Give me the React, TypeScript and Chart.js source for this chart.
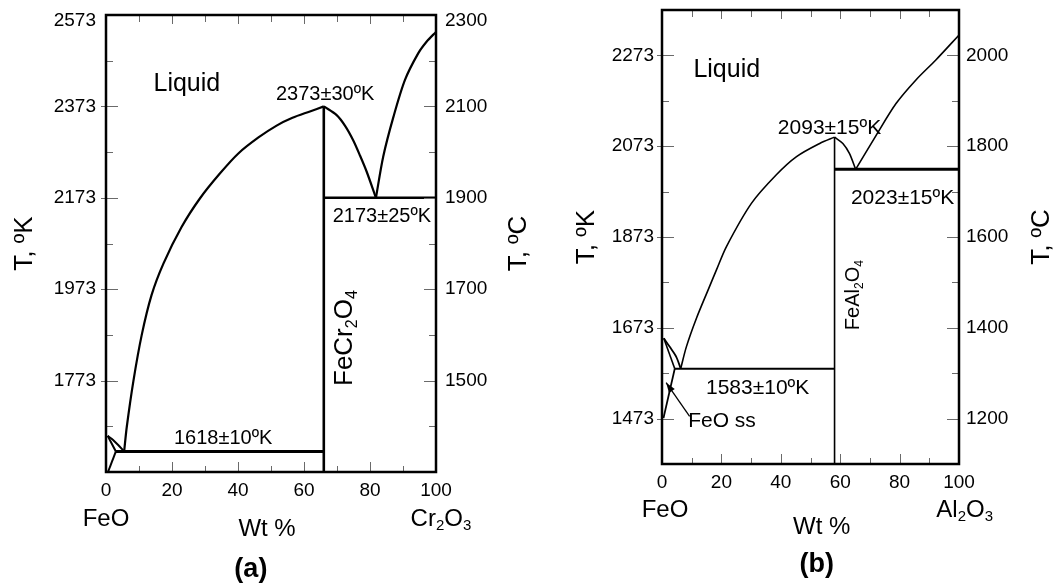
import React, { useEffect, useRef } from "react";
import { Chart, registerables } from "chart.js";
Chart.register(...registerables);

type Pt = [number, number];
type Seg = { t: string; sub?: boolean };

const FONT = "'Liberation Sans', Arial, Helvetica, sans-serif";

// ---------- shared composition axis (wt %) ----------
const wtTicks = [0, 10, 20, 30, 40, 50, 60, 70, 80, 90, 100];
const wtLabels = [0, 20, 40, 60, 80, 100];

// ---------- panel (a): FeO – Cr2O3 ----------
const kTicksA = [1573, 1673, 1773, 1873, 1973, 2073, 2173, 2273, 2373, 2473, 2573];
const kLabelsA = [1773, 1973, 2173, 2373, 2573];
const cTicksA = [1300, 1400, 1500, 1600, 1700, 1800, 1900, 2000, 2100, 2200, 2300];
const cLabelsA = [1500, 1700, 1900, 2100, 2300];

const liquidusFeOSideA: Pt[] = [
  [5.5, 1618], [6.3, 1672], [8.3, 1772], [10.8, 1872], [13.8, 1960], [17.4, 2029],
  [22.9, 2109], [28.5, 2172], [34.5, 2226], [40.1, 2270], [46.2, 2305], [51.7, 2331],
  [56.5, 2348], [61.8, 2362], [66, 2373],
];
const liquidusSpinelA: Pt[] = [
  [66, 2373], [69.9, 2354], [72.5, 2330], [74.9, 2299], [77, 2265], [79, 2230], [81.8, 2173],
];
const liquidusCr2O3SideA: Pt[] = [
  [81.8, 2173], [84, 2263], [87.1, 2350], [90.6, 2431], [94.6, 2489], [97.2, 2515], [100, 2536],
];
const eutecticLowA: Pt[] = [[3.0, 1618], [66, 1618]];
const eutecticHighA: Pt[] = [[66, 2173], [100, 2173]];
const spinelLineA: Pt[] = [[66, 1573], [66, 2373]];
const lensUpperA: Pt[] = [[0.5, 1652], [1.7, 1646], [3.7, 1632], [5.5, 1618]];
const lensLowerA: Pt[] = [[0.5, 1652], [1.6, 1637], [3.0, 1618]];
const solvusA: Pt[] = [[3.0, 1618], [0.6, 1573]];

// ---------- panel (b): FeO – Al2O3 ----------
const kTicksB = [1373, 1473, 1573, 1673, 1773, 1873, 1973, 2073, 2173, 2273, 2373];
const kLabelsB = [1473, 1673, 1873, 2073, 2273];
const cTicksB = [1100, 1200, 1300, 1400, 1500, 1600, 1700, 1800, 1900, 2000, 2100];
const cLabelsB = [1200, 1400, 1600, 1800, 2000];

const liquidusFeOSideB: Pt[] = [
  [6.3, 1583], [8.2, 1631], [11.6, 1694], [15.5, 1756], [18.3, 1800], [21.7, 1852],
  [30.1, 1947], [38.5, 2010], [45.3, 2050], [53.1, 2079], [58.1, 2093],
];
const liquidusSpinelB: Pt[] = [[58.1, 2093], [60.9, 2079], [63.1, 2057], [65.2, 2022]];
const liquidusAl2O3SideB: Pt[] = [
  [65.2, 2022], [72.1, 2097], [78.8, 2167], [85.5, 2219], [92.2, 2263], [100, 2318],
];
const eutecticLowB: Pt[] = [[4.3, 1583], [58.1, 1583]];
const eutecticHighB: Pt[] = [[58.1, 2022], [100, 2022]];
const spinelLineB: Pt[] = [[58.1, 1373], [58.1, 2093]];
const lensUpperB: Pt[] = [[0.6, 1650], [2.6, 1631], [4.8, 1609], [6.3, 1583]];
const lensLowerB: Pt[] = [[0.6, 1650], [4.3, 1583]];
const solvusB: Pt[] = [[4.3, 1583], [0.5, 1474]];
const feoArrowB: Pt[] = [[9.3, 1478], [1.4, 1552]];

// ---------- rendering config ----------
interface Line { pts: Pt[]; w: number; smooth?: boolean }
interface Note {
  segs: Seg[]; size: number; x?: number; y?: number;
  fromLeft?: number; fromRight?: number; below?: number;
  bold?: boolean; rotate?: boolean; align?: "left" | "center";
}
interface PanelCfg {
  left: number; width: number;
  area: { left: number; right: number; top: number; bottom: number };
  kMin: number; kMax: number; cMin: number; cMax: number;
  kTicks: number[]; kLabels: number[]; cTicks: number[]; cLabels: number[];
  padL: number; padR: number; topLabelDrop: number;
  lines: Line[]; notes: Note[]; arrows: Pt[][];
}

const H = 583;

const panelA: PanelCfg = {
  left: 0, width: 530,
  area: { left: 106, right: 436, top: 15, bottom: 472 },
  kMin: 1573, kMax: 2573, cMin: 1300, cMax: 2300,
  kTicks: kTicksA, kLabels: kLabelsA, cTicks: cTicksA, cLabels: cLabelsA,
  padL: 10, padR: 9, topLabelDrop: 6,
  lines: [
    { pts: liquidusFeOSideA, w: 2.2, smooth: true },
    { pts: liquidusSpinelA, w: 2.2, smooth: true },
    { pts: liquidusCr2O3SideA, w: 2.2, smooth: true },
    { pts: eutecticLowA, w: 3 },
    { pts: eutecticHighA, w: 2.5 },
    { pts: spinelLineA, w: 2.6 },
    { pts: lensUpperA, w: 2, smooth: true },
    { pts: lensLowerA, w: 2 },
    { pts: solvusA, w: 2 },
  ],
  notes: [
    { segs: [{ t: "Liquid" }], x: 24.5, y: 2426, size: 25 },
    { segs: [{ t: "2373±30ºK" }], x: 66.4, y: 2403, size: 20 },
    { segs: [{ t: "2173±25ºK" }], x: 83.6, y: 2135, size: 20 },
    { segs: [{ t: "1618±10ºK" }], x: 35.5, y: 1650, size: 20 },
    { segs: [{ t: "FeCr" }, { t: "2", sub: true }, { t: "O" }, { t: "4", sub: true }], x: 71.8, y: 1866, size: 26, rotate: true },
    { segs: [{ t: "T, ºK" }], fromLeft: 83, size: 26, rotate: true },
    { segs: [{ t: "T, ºC" }], fromRight: 81, size: 26, rotate: true },
    { segs: [{ t: "FeO" }], x: 0, below: 45, size: 24 },
    { segs: [{ t: "Wt %" }], x: 48.8, below: 55, size: 24 },
    { segs: [{ t: "Cr" }, { t: "2", sub: true }, { t: "O" }, { t: "3", sub: true }], x: 101.5, below: 45, size: 24 },
    { segs: [{ t: "(a)" }], x: 43.9, below: 95, size: 27, bold: true },
  ],
  arrows: [],
};

const panelB: PanelCfg = {
  left: 530, width: 529,
  area: { left: 132, right: 429, top: 10, bottom: 464 },
  kMin: 1373, kMax: 2373, cMin: 1100, cMax: 2100,
  kTicks: kTicksB, kLabels: kLabelsB, cTicks: cTicksB, cLabels: cLabelsB,
  padL: 8, padR: 7, topLabelDrop: 0,
  lines: [
    { pts: liquidusFeOSideB, w: 1.6, smooth: true },
    { pts: liquidusSpinelB, w: 1.6, smooth: true },
    { pts: liquidusAl2O3SideB, w: 1.6, smooth: true },
    { pts: eutecticLowB, w: 2 },
    { pts: eutecticHighB, w: 3 },
    { pts: spinelLineB, w: 1.6 },
    { pts: lensUpperB, w: 1.8, smooth: true },
    { pts: lensLowerB, w: 1.6 },
    { pts: solvusB, w: 1.8 },
  ],
  notes: [
    { segs: [{ t: "Liquid" }], x: 21.8, y: 2245, size: 25 },
    { segs: [{ t: "2093±15ºK" }], x: 56.4, y: 2116, size: 21 },
    { segs: [{ t: "2023±15ºK" }], x: 81.0, y: 1962, size: 21 },
    { segs: [{ t: "1583±10ºK" }], x: 32.2, y: 1543, size: 21 },
    { segs: [{ t: "FeO ss" }], x: 8.8, y: 1470, size: 21, align: "left" },
    { segs: [{ t: "FeAl" }, { t: "2", sub: true }, { t: "O" }, { t: "4", sub: true }], x: 63.8, y: 1745, size: 20, rotate: true },
    { segs: [{ t: "T, ºK" }], fromLeft: 77, size: 26, rotate: true },
    { segs: [{ t: "T, ºC" }], fromRight: 81, size: 26, rotate: true },
    { segs: [{ t: "FeO" }], x: 1, below: 44, size: 24 },
    { segs: [{ t: "Wt %" }], x: 53.8, below: 61, size: 24 },
    { segs: [{ t: "Al" }, { t: "2", sub: true }, { t: "O" }, { t: "3", sub: true }], x: 101.9, below: 44, size: 24 },
    { segs: [{ t: "(b)" }], x: 52.1, below: 98, size: 27, bold: true },
  ],
  arrows: [feoArrowB],
};

function drawRich(ctx: CanvasRenderingContext2D, segs: Seg[], cx: number, cy: number, size: number, bold: boolean, align: "left" | "center") {
  const w0 = bold ? "bold " : "";
  const main = `${w0}${size}px ${FONT}`;
  const small = `${w0}${Math.round(size * 0.62)}px ${FONT}`;
  let total = 0;
  const widths = segs.map((s) => {
    ctx.font = s.sub ? small : main;
    const w = ctx.measureText(s.t).width;
    total += w;
    return w;
  });
  let x = align === "center" ? cx - total / 2 : cx;
  ctx.textAlign = "left";
  ctx.textBaseline = "alphabetic";
  const base = cy + size * 0.358;
  segs.forEach((s, i) => {
    ctx.font = s.sub ? small : main;
    ctx.fillText(s.t, x, s.sub ? base + size * 0.2 : base);
    x += widths[i];
  });
}

function buildConfig(p: PanelCfg): any {
  const fit = (w?: number, h?: number) => (s: any) => {
    if (w !== undefined) s.width = w;
    if (h !== undefined) s.height = h;
    s.paddingTop = 0; s.paddingBottom = 0; s.paddingLeft = 0; s.paddingRight = 0;
  };
  const tickFont = { family: FONT, size: 19, lineHeight: 1 };
  // the top-most labels sit a little below their tick (two-line label trick)
  const yFont = (top: number) => (c: any) => ({
    family: FONT, size: 19,
    lineHeight: c.tick && c.tick.value === top && p.topLabelDrop ? (p.topLabelDrop * 2) / 19 : 1,
  });
  const yLabel = (labels: number[], top: number) => (v: number) => {
    if (!labels.includes(v)) return "";
    if (v === top && p.topLabelDrop) return ["", String(v)];
    return String(v);
  };

  const overlay = {
    id: "phaseOverlay",
    afterDraw(chart: any) {
      const ctx: CanvasRenderingContext2D = chart.ctx;
      const { left, right, top, bottom } = chart.chartArea;
      const sx = chart.scales.x, sy = chart.scales.y, sc = chart.scales.yR;
      const seg = (x1: number, y1: number, x2: number, y2: number) => {
        ctx.beginPath(); ctx.moveTo(x1, y1); ctx.lineTo(x2, y2); ctx.stroke();
      };
      ctx.save();
      // tick marks (inward)
      ctx.strokeStyle = "#6a6a6a";
      ctx.lineWidth = 1;
      for (const v of wtTicks) {
        if (v === 0 || v === 100) continue;
        const px = Math.round(sx.getPixelForValue(v)) + 0.5;
        const major = wtLabels.includes(v);
        seg(px, bottom, px, bottom - (major ? 10 : 6));
        seg(px, top, px, top + (major ? 9 : 7));
      }
      for (const v of p.kTicks) {
        if (v === p.kMin || v === p.kMax) continue;
        const py = Math.round(sy.getPixelForValue(v)) + 0.5;
        if (p.kLabels.includes(v)) seg(left - 5, py, left + 12, py);
        else seg(left, py, left + 7, py);
      }
      for (const v of p.cTicks) {
        if (v === p.cMin || v === p.cMax) continue;
        const py = Math.round(sc.getPixelForValue(v)) + 0.5;
        if (p.cLabels.includes(v)) seg(right - 12, py, right, py);
        else seg(right - 7, py, right, py);
      }
      // frame
      ctx.strokeStyle = "#000";
      ctx.lineWidth = 2.5;
      ctx.strokeRect(left, top, right - left, bottom - top);
      // arrows
      ctx.lineWidth = 1.3;
      ctx.fillStyle = "#000";
      for (const a of p.arrows) {
        const x1 = sx.getPixelForValue(a[0][0]), y1 = sy.getPixelForValue(a[0][1]);
        const x2 = sx.getPixelForValue(a[1][0]), y2 = sy.getPixelForValue(a[1][1]);
        seg(x1, y1, x2, y2);
        const ang = Math.atan2(y2 - y1, x2 - x1);
        const L = 10, Wd = 3.5;
        ctx.beginPath();
        ctx.moveTo(x2, y2);
        ctx.lineTo(x2 - L * Math.cos(ang) + Wd * Math.sin(ang), y2 - L * Math.sin(ang) - Wd * Math.cos(ang));
        ctx.lineTo(x2 - L * Math.cos(ang) - Wd * Math.sin(ang), y2 - L * Math.sin(ang) + Wd * Math.cos(ang));
        ctx.closePath();
        ctx.fill();
      }
      // text
      for (const n of p.notes) {
        const px = n.x !== undefined ? sx.getPixelForValue(n.x)
          : n.fromLeft !== undefined ? left - n.fromLeft : right + (n.fromRight || 0);
        const py = n.y !== undefined ? sy.getPixelForValue(n.y)
          : n.below !== undefined ? bottom + n.below : (top + bottom) / 2;
        if (n.rotate) {
          ctx.save();
          ctx.translate(px, py);
          ctx.rotate(-Math.PI / 2);
          drawRich(ctx, n.segs, 0, 0, n.size, !!n.bold, "center");
          ctx.restore();
        } else {
          drawRich(ctx, n.segs, px, py, n.size, !!n.bold, n.align || "center");
        }
      }
      ctx.restore();
    },
  };

  return {
    type: "scatter",
    data: {
      datasets: p.lines.map((l) => ({
        data: l.pts.map(([x, y]) => ({ x, y })),
        showLine: true,
        borderColor: "#000",
        backgroundColor: "#000",
        borderWidth: l.w,
        pointRadius: 0,
        fill: false,
        tension: l.smooth ? 0.3 : 0,
        borderJoinStyle: "round",
        xAxisID: "x",
        yAxisID: "y",
      })),
    },
    options: {
      responsive: false,
      animation: false,
      events: [],
      layout: { padding: { top: p.area.top, left: 0, right: 0, bottom: 0 } },
      plugins: { legend: { display: false }, tooltip: { enabled: false }, title: { display: false } },
      scales: {
        x: {
          type: "linear", position: "bottom", min: 0, max: 100,
          afterBuildTicks: (s: any) => { s.ticks = wtTicks.map((v) => ({ value: v })); },
          afterFit: fit(undefined, H - p.area.bottom),
          grid: { display: false, drawTicks: false },
          border: { display: false },
          ticks: {
            autoSkip: false, maxRotation: 0, minRotation: 0, padding: 9, color: "#000", font: tickFont,
            callback: (v: number) => (wtLabels.includes(v) ? String(v) : ""),
          },
        },
        y: {
          type: "linear", position: "left", min: p.kMin, max: p.kMax,
          afterBuildTicks: (s: any) => { s.ticks = p.kTicks.map((v) => ({ value: v })); },
          afterFit: fit(p.area.left),
          grid: { display: false, drawTicks: false },
          border: { display: false },
          ticks: {
            autoSkip: false, padding: p.padL, color: "#000", font: yFont(p.kMax),
            callback: yLabel(p.kLabels, p.kMax),
          },
        },
        yR: {
          type: "linear", position: "right", min: p.cMin, max: p.cMax,
          afterBuildTicks: (s: any) => { s.ticks = p.cTicks.map((v) => ({ value: v })); },
          afterFit: fit(p.width - p.area.right),
          grid: { display: false, drawTicks: false },
          border: { display: false },
          ticks: {
            autoSkip: false, padding: p.padR, color: "#000", font: yFont(p.cMax),
            callback: yLabel(p.cLabels, p.cMax),
          },
        },
      },
    },
    plugins: [overlay],
  };
}

function Panel({ cfg }: { cfg: PanelCfg }) {
  const ref = useRef<HTMLCanvasElement>(null);
  useEffect(() => {
    const chart = new Chart(ref.current as HTMLCanvasElement, buildConfig(cfg));
    return () => chart.destroy();
  }, [cfg]);
  return (
    <canvas
      ref={ref}
      width={cfg.width}
      height={H}
      style={{ position: "absolute", left: cfg.left, top: 0, width: cfg.width, height: H }}
    />
  );
}

export default function App() {
  return (
    <div style={{ position: "absolute", left: 0, top: 0, width: 1059, height: H, background: "#fff", overflow: "hidden" }}>
      <Panel cfg={panelA} />
      <Panel cfg={panelB} />
    </div>
  );
}
